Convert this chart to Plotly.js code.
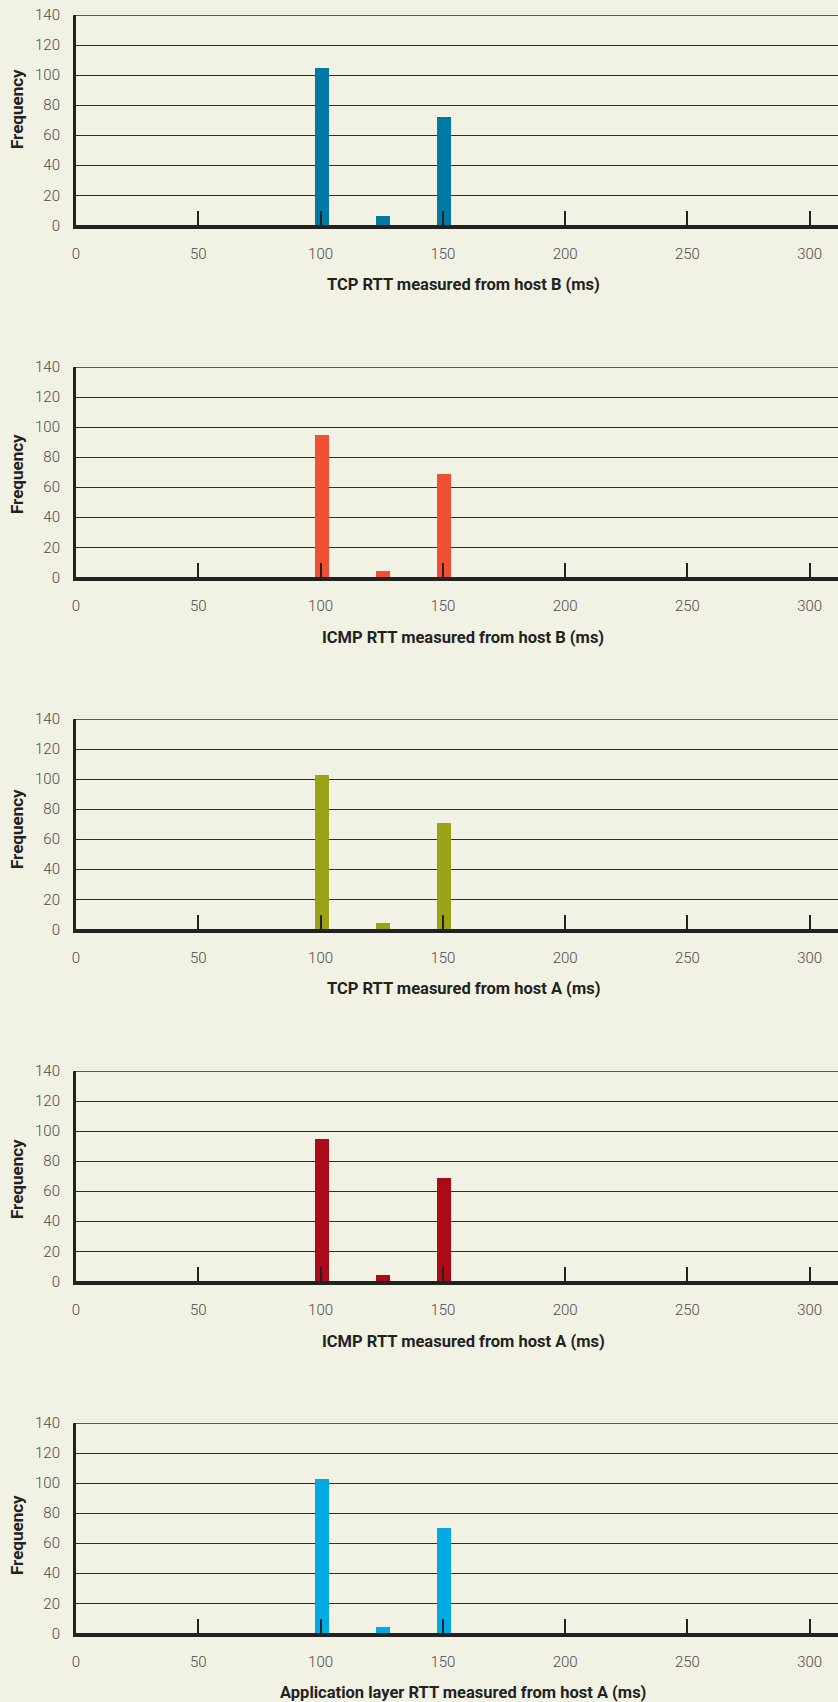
<!DOCTYPE html>
<html>
<head>
<meta charset="utf-8">
<script src="https://cdn.plot.ly/plotly-3.0.1.min.js"></script>
<style>
  html, body { margin: 0; padding: 0; background: #f2f2e4; }
  #chart { width: 838px; height: 1702px; }
</style>
</head>
<body>
<div id="chart"></div>
<script>
// ---- data ----
const rttBins = [100, 125, 150];               // RTT bin (ms)
const tcpHostB = [105, 6, 72];
const icmpHostB = [95, 4, 69];
const tcpHostA = [103, 4, 71];
const icmpHostA = [95, 4.5, 69];
const appHostA = [103, 4.5, 70];
const xTickVals = [0, 50, 100, 150, 200, 250, 300];
const yTickVals = [0, 20, 40, 60, 80, 100, 120, 140];
const panelTitles = [
  "TCP RTT measured from host B (ms)",
  "ICMP RTT measured from host B (ms)",
  "TCP RTT measured from host A (ms)",
  "ICMP RTT measured from host A (ms)",
  "Application layer RTT measured from host A (ms)"
];
const yTitle = "Frequency";

// ---- styling / layout ----
const series = [tcpHostB, icmpHostB, tcpHostA, icmpHostA, appHostA];
const colors = ["#0079a5", "#f04f31", "#99a315", "#aa0b16", "#00abe4"];
const W = 838, H = 1702;
const plotLeft = 76, pitch = 352, topPx = 15, bottomPx = 225.3;
const freqOffsets = [94, 107, 110, 108, 112];
const xMax = (W - plotLeft) / 2.4457;
const yMax = 140;

const tickFont = { family: "Roboto, 'Open Sans', sans-serif", size: 15, color: "#4a4a4a", weight: 300 };
const titleFont = { family: "Roboto, 'Open Sans', sans-serif", size: 16.5, color: "#222", weight: 700 };
const freqFont = { family: "Roboto, 'Open Sans', sans-serif", size: 17, color: "#222", weight: 700 };

const traces = [];
const layout = {
  width: W, height: H,
  margin: { l: 0, r: 0, t: 0, b: 0 },
  paper_bgcolor: "#f2f2e4",
  plot_bgcolor: "#f2f2e4",
  showlegend: false,
  bargap: 0,
  annotations: [],
  shapes: []
};

series.forEach((vals, k) => {
  const sfx = k === 0 ? "" : String(k + 1);
  traces.push({
    type: "bar",
    x: rttBins,
    y: vals,
    width: 5.7,
    offset: -2.25,
    marker: { color: colors[k], line: { width: 0 } },
    xaxis: "x" + sfx,
    yaxis: "y" + sfx,
    hoverinfo: "x+y"
  });
  const yTop = 1 - (topPx + pitch * k) / H;
  const yBot = 1 - (bottomPx + pitch * k) / H;
  layout["xaxis" + sfx] = {
    domain: [plotLeft / W, 1],
    anchor: "y" + sfx,
    range: [0, xMax],
    tickvals: xTickVals,
    ticks: "inside",
    ticklen: 14,
    tickwidth: 2,
    tickcolor: "#222",
    showline: true,
    linecolor: "#222",
    linewidth: 4,
    showgrid: false,
    zeroline: false,
    tickfont: tickFont,
    ticklabelstandoff: 12,
    fixedrange: true
  };
  layout["yaxis" + sfx] = {
    domain: [yBot, yTop],
    anchor: "x" + sfx,
    range: [0, yMax],
    tickvals: yTickVals,
    ticks: "",
    showline: true,
    linecolor: "#222",
    linewidth: 3,
    showgrid: true,
    gridcolor: "#2e2e2e",
    gridwidth: 1,
    zeroline: false,
    tickfont: tickFont,
    ticklabelstandoff: 10,
    fixedrange: true
  };
  // top frame line at the 140 level
  layout.shapes.push({
    type: "line",
    xref: "x" + sfx + " domain", yref: "y" + sfx,
    x0: 0, x1: 1, y0: yMax, y1: yMax,
    line: { color: "#222", width: 1.5 }
  });
  layout.annotations.push({
    xref: "paper", yref: "paper",
    x: 463 / W, y: 1 - Math.min(285 + pitch * k, H - 10) / H,
    xanchor: "center", yanchor: "middle",
    text: panelTitles[k],
    showarrow: false,
    font: titleFont
  });
  layout.annotations.push({
    xref: "paper", yref: "paper",
    x: 17 / W, y: 1 - (topPx + pitch * k + freqOffsets[k]) / H,
    xanchor: "center", yanchor: "middle",
    text: yTitle,
    textangle: -90,
    showarrow: false,
    font: freqFont
  });
});

Plotly.newPlot("chart", traces, layout, { displayModeBar: false, staticPlot: true });
</script>
</body>
</html>
